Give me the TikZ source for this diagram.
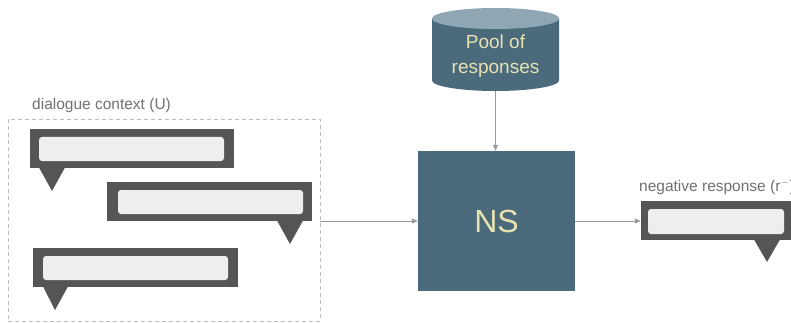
\documentclass[tikz,border=0pt]{standalone}
\usepackage{fontspec}
\setmainfont{Liberation Sans}
\usetikzlibrary{arrows.meta}
\definecolor{slate}{HTML}{4B6B7D}
\definecolor{slatetop}{HTML}{8FA6B4}
\definecolor{cream}{HTML}{E8E2B0}
\definecolor{bubbledark}{HTML}{555555}
\definecolor{bubblelight}{HTML}{EEEEEE}
\definecolor{wire}{HTML}{9A9A9A}
\definecolor{labelgray}{HTML}{707070}
\definecolor{dashgray}{HTML}{BBBBBB}
\tikzset{
  outer/.style={fill=bubbledark, inner sep=0pt, minimum height=39pt},
  innerbar/.style={fill=bubblelight, rounded corners=3pt, inner sep=0pt, minimum height=24pt},
  tail/.style={fill=bubbledark},
  flow/.style={draw=wire, line width=0.8pt, -{Triangle[length=6pt,width=5pt]}},
  caption/.style={text=labelgray, font=\fontsize{15.5}{18}\selectfont, inner sep=0pt},
}
\begin{document}
\begin{tikzpicture}[x=1pt, y=-1pt]
\useasboundingbox (0,0) rectangle (791,323);
\clip (0,0) rectangle (791,323);

% dialogue context frame
\node[caption, anchor=west] (ctxlabel) at (32,105) {dialogue context (U)};
\node[draw=dashgray, dash pattern=on 4pt off 3pt, line width=0.8pt,
      minimum width=312pt, minimum height=202pt, inner sep=0pt] (ctx) at (164,220) {};

% speech bubbles
\node[outer, minimum width=204pt] (b1) at (132,148.5) {};
\node[innerbar, minimum width=185pt] (b1in) at (131.5,149) {};
\fill[tail] (39,167.5) -- (65,167.5) -- (52,191) -- cycle;

\node[outer, minimum width=205pt] (b2) at (209.5,201.5) {};
\node[innerbar, minimum width=185pt] (b2in) at (210.5,202) {};
\fill[tail] (277,220.5) -- (303,220.5) -- (290,244) -- cycle;

\node[outer, minimum width=205pt] (b3) at (135.5,267.5) {};
\node[innerbar, minimum width=185pt] (b3in) at (135.5,268) {};
\fill[tail] (43,286.5) -- (68,286.5) -- (55,310) -- cycle;

% pool of responses (cylinder)
\fill[slate] (432,18.5) -- (432,80.5)
  arc[start angle=180, end angle=0, x radius=63.5, y radius=10.5]
  -- (559,18.5) -- cycle;
\fill[slatetop] (495.5,18.5) ellipse[x radius=63.5, y radius=10.5];
\node[text=cream, align=center, inner sep=0pt,
      font=\fontsize{19}{25}\selectfont] (pool) at (495.5,56) {Pool of\\responses};
\coordinate (poolb) at (495.5,91);

% negative sampler
\node[fill=slate, minimum width=157pt, minimum height=140pt, inner sep=0pt,
      text=cream, font=\fontsize{32}{36}\selectfont] (ns) at (496.5,221) {NS};

% negative response
\node[caption, anchor=west] (neglabel) at (639,187) {negative response (r$^-$)};
\node[outer, minimum width=152pt] (neg) at (717,220.5) {};
\node[innerbar, minimum width=136pt, minimum height=25pt] (negin) at (716,221.5) {};
\fill[tail] (754,239.5) -- (780,239.5) -- (767,262) -- cycle;

% connectors
\draw[flow] (ctx.east |- ns.west) -- (ns.west);
\draw[flow] (poolb) -- (poolb |- ns.north);
\draw[flow] (ns.east) -- (ns.east -| neg.west);
\end{tikzpicture}
\end{document}
